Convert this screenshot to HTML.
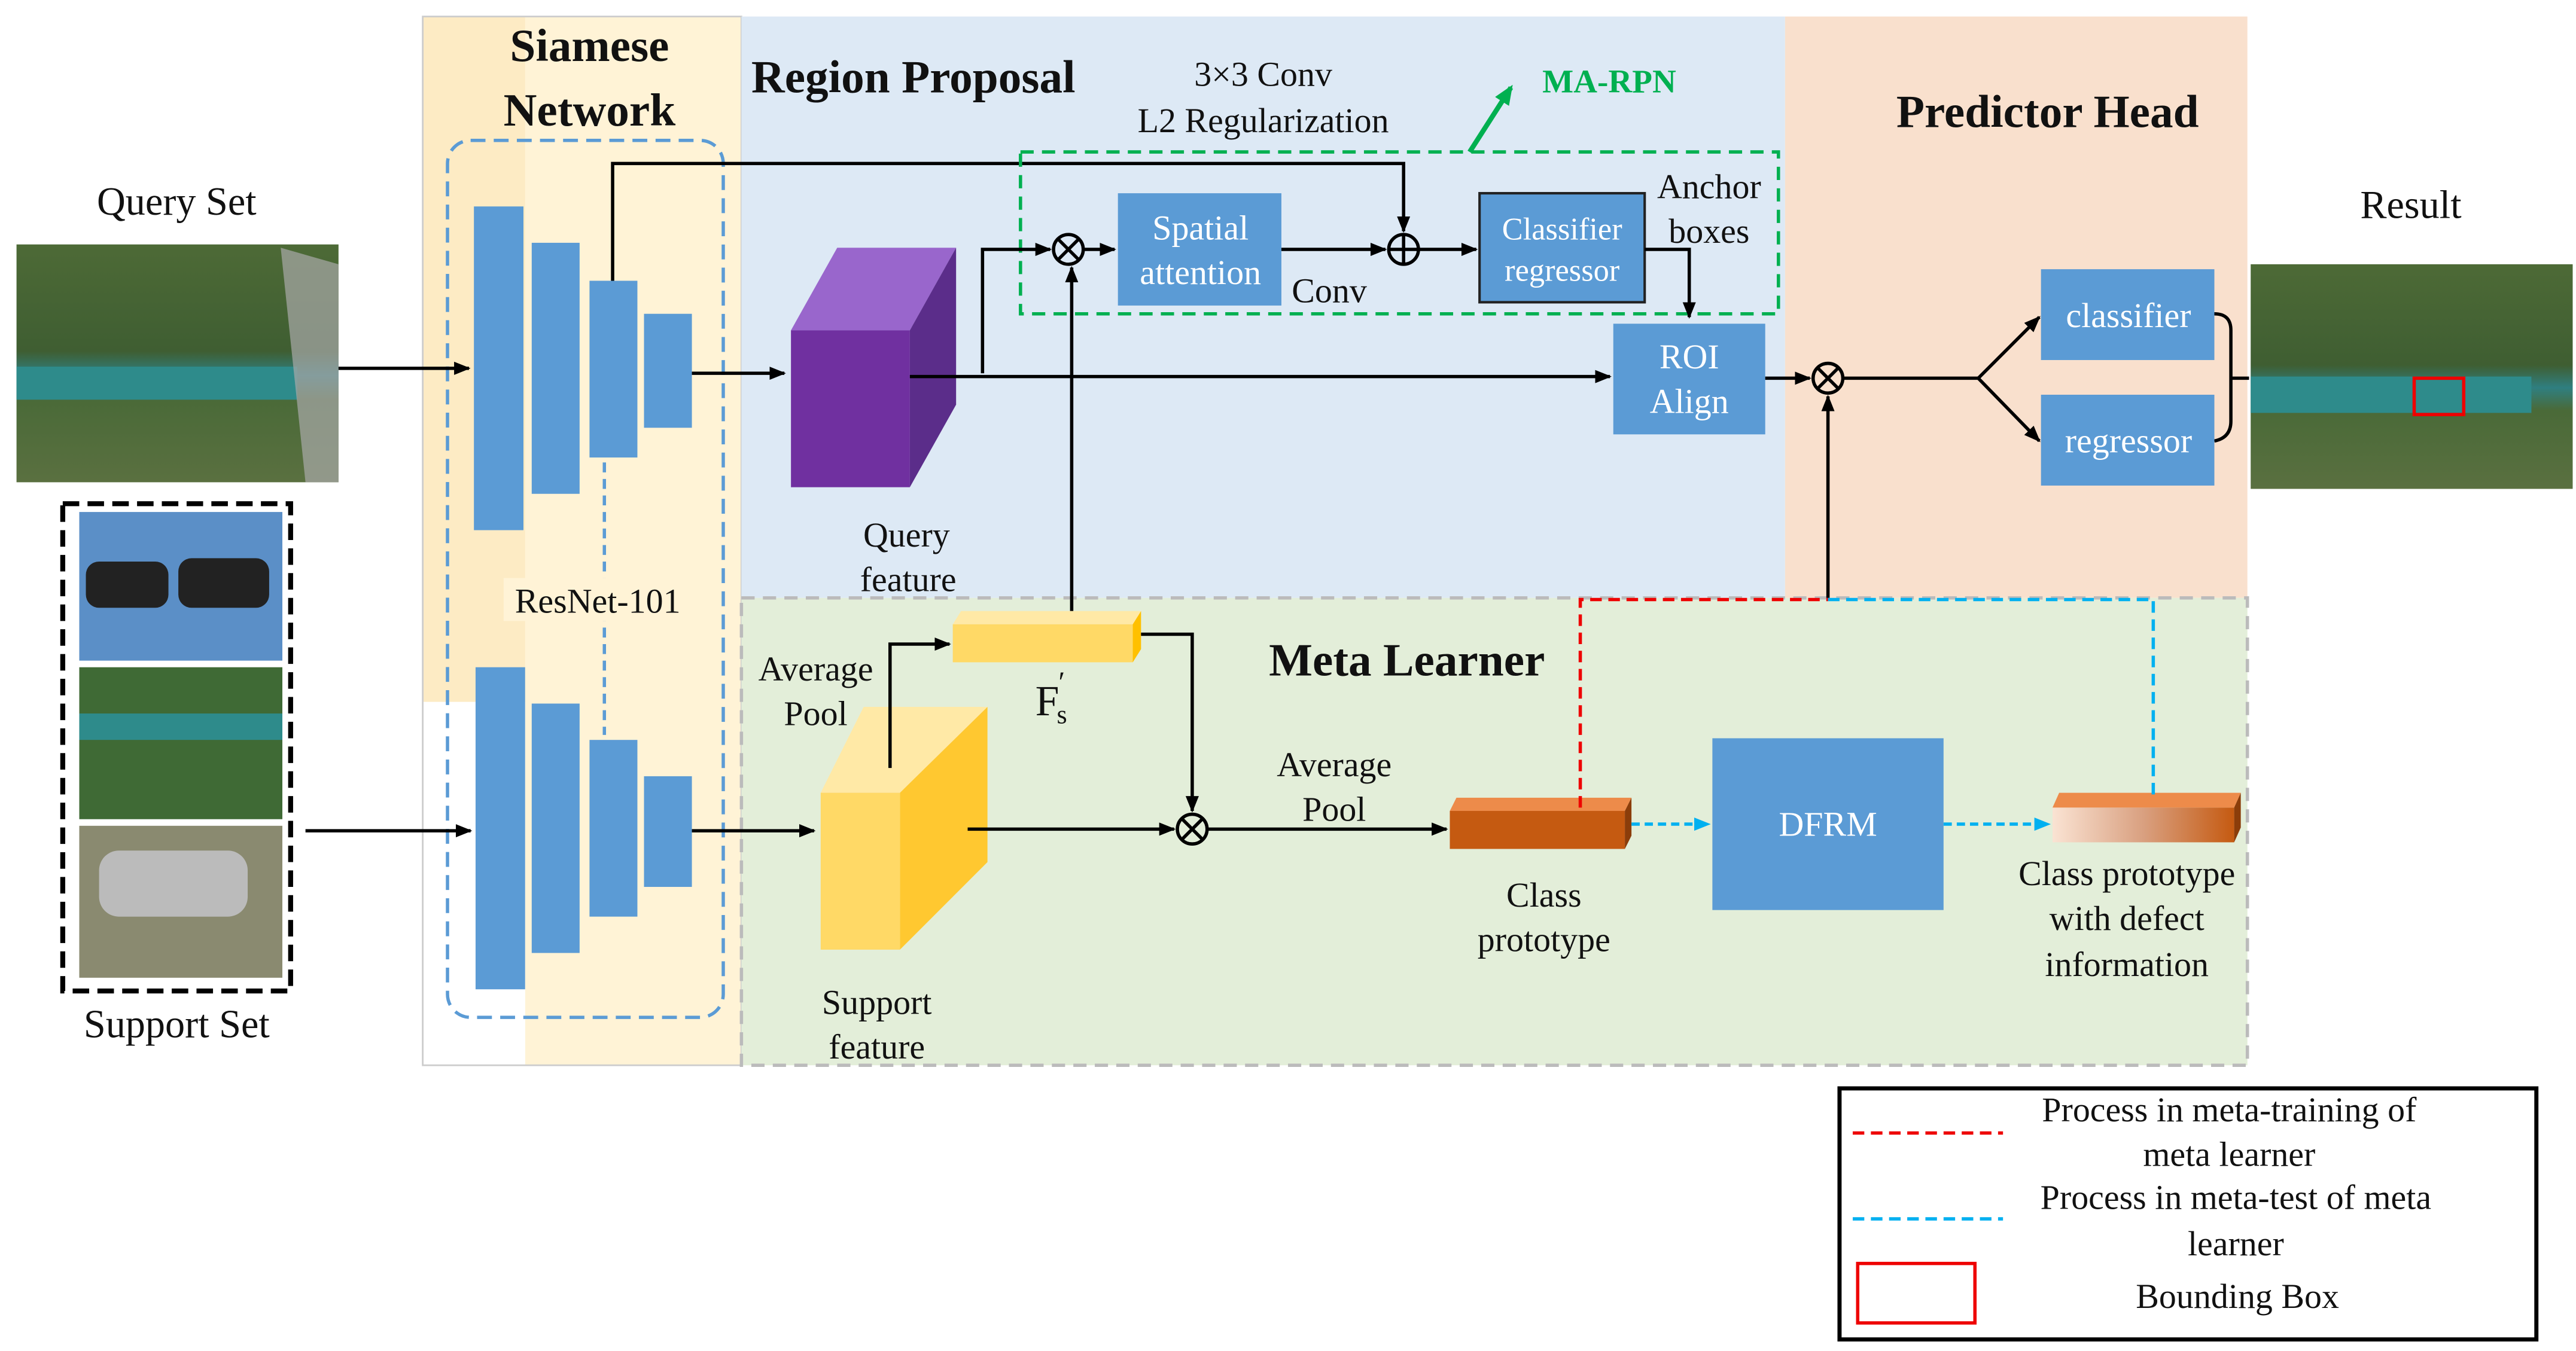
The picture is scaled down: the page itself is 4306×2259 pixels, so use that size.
<!DOCTYPE html>
<html><head><meta charset="utf-8"><style>
html,body{margin:0;padding:0;background:#fff}
svg{display:block}
text{font-family:"Liberation Serif",serif;fill:#111}
</style></head><body>
<svg width="4306" height="2259" viewBox="0 0 1560 818" preserveAspectRatio="none" xmlns="http://www.w3.org/2000/svg">
<defs>
<marker id="a" markerWidth="10" markerHeight="8" refX="9" refY="4" orient="auto" markerUnits="userSpaceOnUse"><path d="M0,0 L10,4 L0,8z" fill="#000"/></marker>
<marker id="b" markerWidth="10" markerHeight="8" refX="9" refY="4" orient="auto" markerUnits="userSpaceOnUse"><path d="M0,0 L10,4 L0,8z" fill="#00b0f0"/></marker>
<marker id="g" markerWidth="12" markerHeight="10" refX="10" refY="5" orient="auto" markerUnits="userSpaceOnUse"><path d="M0,0 L12,5 L0,10z" fill="#00b050"/></marker>
<linearGradient id="img1" x1="0" y1="0" x2="0" y2="1"><stop offset="0" stop-color="#4d6a36"/><stop offset=".45" stop-color="#3f5e32"/><stop offset=".55" stop-color="#2f7f80"/><stop offset=".65" stop-color="#4a6a38"/><stop offset="1" stop-color="#5a7040"/></linearGradient>
<linearGradient id="proto" x1="0" y1="0" x2="1" y2="0"><stop offset="0" stop-color="#fae3d3"/><stop offset=".5" stop-color="#d9a080"/><stop offset="1" stop-color="#c55a11"/></linearGradient>
</defs>
<!-- panels -->
<rect x="256" y="10" width="193" height="415" fill="#fdebc4"/>
<rect x="318" y="10" width="131" height="635" fill="#fff3d6"/>
<rect x="256" y="425" width="62" height="220" fill="#fff"/>
<rect x="256" y="10" width="193" height="635" fill="none" stroke="#ccc" stroke-width="1"/>
<rect x="449" y="10" width="632" height="352" fill="#dde9f5"/>
<rect x="1081" y="10" width="280" height="352" fill="#f9e0cd"/>
<rect x="449" y="362" width="912" height="283" fill="#e3eed9" stroke="#bbb" stroke-width="2" stroke-dasharray="8,5"/>
<!-- titles -->
<text x="357" y="37" font-size="28" font-weight="bold" text-anchor="middle">Siamese</text>
<text x="357" y="76" font-size="28" font-weight="bold" text-anchor="middle">Network</text>
<text x="455" y="56" font-size="28" font-weight="bold">Region Proposal</text>
<text x="1240" y="77" font-size="28" font-weight="bold" text-anchor="middle">Predictor Head</text>
<text x="852" y="409" font-size="28" font-weight="bold" text-anchor="middle">Meta Learner</text>
<!-- images -->
<text x="107" y="130" font-size="24" text-anchor="middle">Query Set</text>
<rect x="10" y="148" width="195" height="144" fill="url(#img1)"/>
<rect x="10" y="222" width="170" height="20" fill="#2e8b8b"/>
<path d="M170,150 L205,160 L205,292 L185,292z" fill="#aaa" opacity=".7"/>
<rect x="38" y="305" width="138" height="295" fill="none" stroke="#000" stroke-width="3" stroke-dasharray="10,5"/>
<rect x="48" y="310" width="123" height="90" fill="#5b8fc7"/>
<rect x="52" y="340" width="50" height="28" rx="8" fill="#222"/><rect x="108" y="338" width="55" height="30" rx="8" fill="#222"/>
<rect x="48" y="404" width="123" height="92" fill="#3f6a35"/>
<rect x="48" y="432" width="123" height="16" fill="#2e8b8b"/>
<rect x="48" y="500" width="123" height="92" fill="#8a8a70"/>
<rect x="60" y="515" width="90" height="40" rx="12" fill="#bbb"/>
<text x="107" y="628" font-size="24" text-anchor="middle">Support Set</text>
<text x="1460" y="132" font-size="24" text-anchor="middle">Result</text>
<rect x="1363" y="160" width="195" height="136" fill="url(#img1)"/>
<rect x="1363" y="228" width="170" height="22" fill="#2e8b8b"/>
<rect x="1462" y="229" width="30" height="22" fill="none" stroke="#e00" stroke-width="2"/>
<!-- resnet -->
<rect x="271" y="85" width="167" height="531" rx="14" fill="none" stroke="#5b9bd5" stroke-width="2" stroke-dasharray="9,5"/>
<g fill="#5b9bd5">
<rect x="287" y="125" width="30" height="196"/><rect x="322" y="147" width="29" height="152"/><rect x="357" y="170" width="29" height="107"/><rect x="390" y="190" width="29" height="69"/>
<rect x="288" y="404" width="30" height="195"/><rect x="322" y="426" width="29" height="151"/><rect x="357" y="448" width="29" height="107"/><rect x="390" y="470" width="29" height="67"/>
</g>
<line x1="366" y1="280" x2="366" y2="445" stroke="#5b9bd5" stroke-width="2" stroke-dasharray="6,4"/>
<rect x="305" y="350" width="112" height="26" fill="#fff3d6"/>
<text x="362" y="371" font-size="21" text-anchor="middle">ResNet-101</text>
<g stroke="#000" stroke-width="2" fill="none">
<line x1="205" y1="223" x2="284" y2="223" marker-end="url(#a)"/>
<line x1="185" y1="503" x2="285" y2="503" marker-end="url(#a)"/>
<line x1="419" y1="226" x2="475" y2="226" marker-end="url(#a)"/>
<line x1="419" y1="503" x2="493" y2="503" marker-end="url(#a)"/>
<polyline points="371,170 371,99 850,99 850,140" marker-end="url(#a)"/>
</g>
<!-- query feature cube -->
<polygon points="479,200 507,150 579,150 551,200" fill="#9966cc"/>
<polygon points="551,200 579,150 579,245 551,295" fill="#5b2d8a"/>
<rect x="479" y="200" width="72" height="95" fill="#7030a0"/>
<text x="549" y="331" font-size="21" text-anchor="middle">Query</text>
<text x="550" y="358" font-size="21" text-anchor="middle">feature</text>
<!-- MA-RPN -->
<rect x="618" y="92" width="459" height="98" fill="none" stroke="#00b050" stroke-width="2" stroke-dasharray="8,5"/>
<line x1="890" y1="92" x2="915" y2="53" stroke="#00b050" stroke-width="3" marker-end="url(#g)"/>
<text x="934" y="56" font-size="20" font-weight="bold" fill="#00b050" style="fill:#00b050">MA-RPN</text>
<text x="765" y="52" font-size="21" text-anchor="middle">3×3 Conv</text>
<text x="765" y="80" font-size="21" text-anchor="middle">L2 Regularization</text>
<rect x="677" y="117" width="99" height="68" fill="#5b9bd5"/>
<text x="727" y="145" font-size="21" text-anchor="middle" style="fill:#fff">Spatial</text>
<text x="727" y="172" font-size="21" text-anchor="middle" style="fill:#fff">attention</text>
<text x="805" y="183" font-size="21" text-anchor="middle">Conv</text>
<rect x="896" y="117" width="100" height="66" fill="#5b9bd5" stroke="#222" stroke-width="1.5"/>
<text x="946" y="145" font-size="19" text-anchor="middle" style="fill:#fff">Classifier</text>
<text x="946" y="170" font-size="19" text-anchor="middle" style="fill:#fff">regressor</text>
<text x="1035" y="120" font-size="21" text-anchor="middle">Anchor</text>
<text x="1035" y="147" font-size="21" text-anchor="middle">boxes</text>
<rect x="977" y="196" width="92" height="67" fill="#5b9bd5"/>
<text x="1023" y="223" font-size="21" text-anchor="middle" style="fill:#fff">ROI</text>
<text x="1023" y="250" font-size="21" text-anchor="middle" style="fill:#fff">Align</text>
<g stroke="#000" stroke-width="2" fill="none">
<circle cx="647" cy="151" r="9"/><line x1="641" y1="145" x2="653" y2="157"/><line x1="653" y1="145" x2="641" y2="157"/>
<circle cx="850" cy="151" r="9"/><line x1="841" y1="151" x2="859" y2="151"/><line x1="850" y1="142" x2="850" y2="160"/>
<polyline points="595,226 595,151 636,151" marker-end="url(#a)"/>
<line x1="656" y1="151" x2="675" y2="151" marker-end="url(#a)"/>
<line x1="776" y1="151" x2="839" y2="151" marker-end="url(#a)"/>
<line x1="859" y1="151" x2="894" y2="151" marker-end="url(#a)"/>
<polyline points="996,151 1023,151 1023,192" marker-end="url(#a)"/>
<line x1="551" y1="228" x2="975" y2="228" marker-end="url(#a)"/>
<line x1="649" y1="370" x2="649" y2="162" marker-end="url(#a)"/>
<line x1="1069" y1="229" x2="1096" y2="229" marker-end="url(#a)"/>
<circle cx="1107" cy="229" r="9"/><line x1="1101" y1="223" x2="1113" y2="235"/><line x1="1113" y1="223" x2="1101" y2="235"/>
<line x1="1107" y1="362" x2="1107" y2="240" marker-end="url(#a)"/>
<polyline points="1116,229 1198,229"/>
<line x1="1198" y1="229" x2="1235" y2="192" marker-end="url(#a)"/>
<line x1="1198" y1="229" x2="1235" y2="267" marker-end="url(#a)"/>
<path d="M1341,190 q10,0 10,10 v55 q0,10 -10,12"/>
<line x1="1351" y1="229" x2="1362" y2="229"/>
</g>
<rect x="1236" y="163" width="105" height="55" fill="#5b9bd5"/>
<text x="1289" y="198" font-size="21" text-anchor="middle" style="fill:#fff">classifier</text>
<rect x="1236" y="239" width="105" height="55" fill="#5b9bd5"/>
<text x="1289" y="274" font-size="21" text-anchor="middle" style="fill:#fff">regressor</text>
<!-- meta learner -->
<polygon points="577,378 582,370 691,370 686,378" fill="#ffe9a6"/>
<rect x="577" y="378" width="109" height="23" fill="#ffd966"/>
<polygon points="686,378 691,370 691,393 686,401" fill="#ffc000"/>
<text x="627" y="433" font-size="26">F</text><text x="641" y="419" font-size="18">′</text><text x="640" y="438" font-size="16">s</text>
<text x="494" y="412" font-size="21" text-anchor="middle">Average</text>
<text x="494" y="439" font-size="21" text-anchor="middle">Pool</text>
<polygon points="497,480 523,428 598,428 545,480" fill="#ffe9a6"/>
<polygon points="545,480 598,428 598,522 545,575" fill="#ffc830"/>
<rect x="497" y="480" width="48" height="95" fill="#ffd966"/>
<text x="531" y="614" font-size="21" text-anchor="middle">Support</text>
<text x="531" y="641" font-size="21" text-anchor="middle">feature</text>
<g stroke="#000" stroke-width="2" fill="none">
<polyline points="539,465 539,390 575,390" marker-end="url(#a)"/>
<polyline points="691,384 722,384 722,491" marker-end="url(#a)"/>
<line x1="586" y1="502" x2="711" y2="502" marker-end="url(#a)"/>
<circle cx="722" cy="502" r="9"/><line x1="716" y1="496" x2="728" y2="508"/><line x1="728" y1="496" x2="716" y2="508"/>
<line x1="731" y1="502" x2="876" y2="502" marker-end="url(#a)"/>
</g>
<text x="808" y="470" font-size="21" text-anchor="middle">Average</text>
<text x="808" y="497" font-size="21" text-anchor="middle">Pool</text>
<polygon points="878,491 882,483 988,483 984,491" fill="#ed8b4a"/>
<rect x="878" y="491" width="106" height="23" fill="#c55a11"/>
<polygon points="984,491 988,483 988,506 984,514" fill="#8b3d0a"/>
<text x="935" y="549" font-size="21" text-anchor="middle">Class</text>
<text x="935" y="576" font-size="21" text-anchor="middle">prototype</text>
<rect x="1037" y="447" width="140" height="104" fill="#5b9bd5"/>
<text x="1107" y="506" font-size="21" text-anchor="middle" style="fill:#fff">DFRM</text>
<polygon points="1243,489 1247,480 1357,480 1353,489" fill="#ed8b4a"/>
<rect x="1243" y="489" width="110" height="21" fill="url(#proto)"/>
<polygon points="1353,489 1357,480 1357,501 1353,510" fill="#8b3d0a"/>
<text x="1288" y="536" font-size="21" text-anchor="middle">Class prototype</text>
<text x="1288" y="563" font-size="21" text-anchor="middle">with defect</text>
<text x="1288" y="591" font-size="21" text-anchor="middle">information</text>
<g stroke-width="2" fill="none">
<line x1="988" y1="499" x2="1035" y2="499" stroke="#00b0f0" stroke-dasharray="5,3" marker-end="url(#b)"/>
<line x1="1177" y1="499" x2="1241" y2="499" stroke="#00b0f0" stroke-dasharray="5,3" marker-end="url(#b)"/>
<polyline points="957,489 957,363 1107,363" stroke="#e00" stroke-dasharray="7,4"/>
<polyline points="1107,363 1304,363 1304,483" stroke="#00b0f0" stroke-dasharray="7,4"/>
</g>
<!-- legend -->
<rect x="1114" y="659" width="422" height="152" fill="#fff" stroke="#000" stroke-width="2.5"/>
<line x1="1122" y1="686" x2="1213" y2="686" stroke="#e00" stroke-width="2" stroke-dasharray="7,4"/>
<text x="1350" y="679" font-size="21" text-anchor="middle">Process in meta-training of</text>
<text x="1350" y="706" font-size="21" text-anchor="middle">meta learner</text>
<line x1="1122" y1="738" x2="1213" y2="738" stroke="#00b0f0" stroke-width="2" stroke-dasharray="7,4"/>
<text x="1354" y="732" font-size="21" text-anchor="middle">Process in meta-test of meta</text>
<text x="1354" y="760" font-size="21" text-anchor="middle">learner</text>
<rect x="1125" y="765" width="71" height="36" fill="none" stroke="#e00" stroke-width="2"/>
<text x="1355" y="792" font-size="21" text-anchor="middle">Bounding Box</text>
</svg>
</body></html>
